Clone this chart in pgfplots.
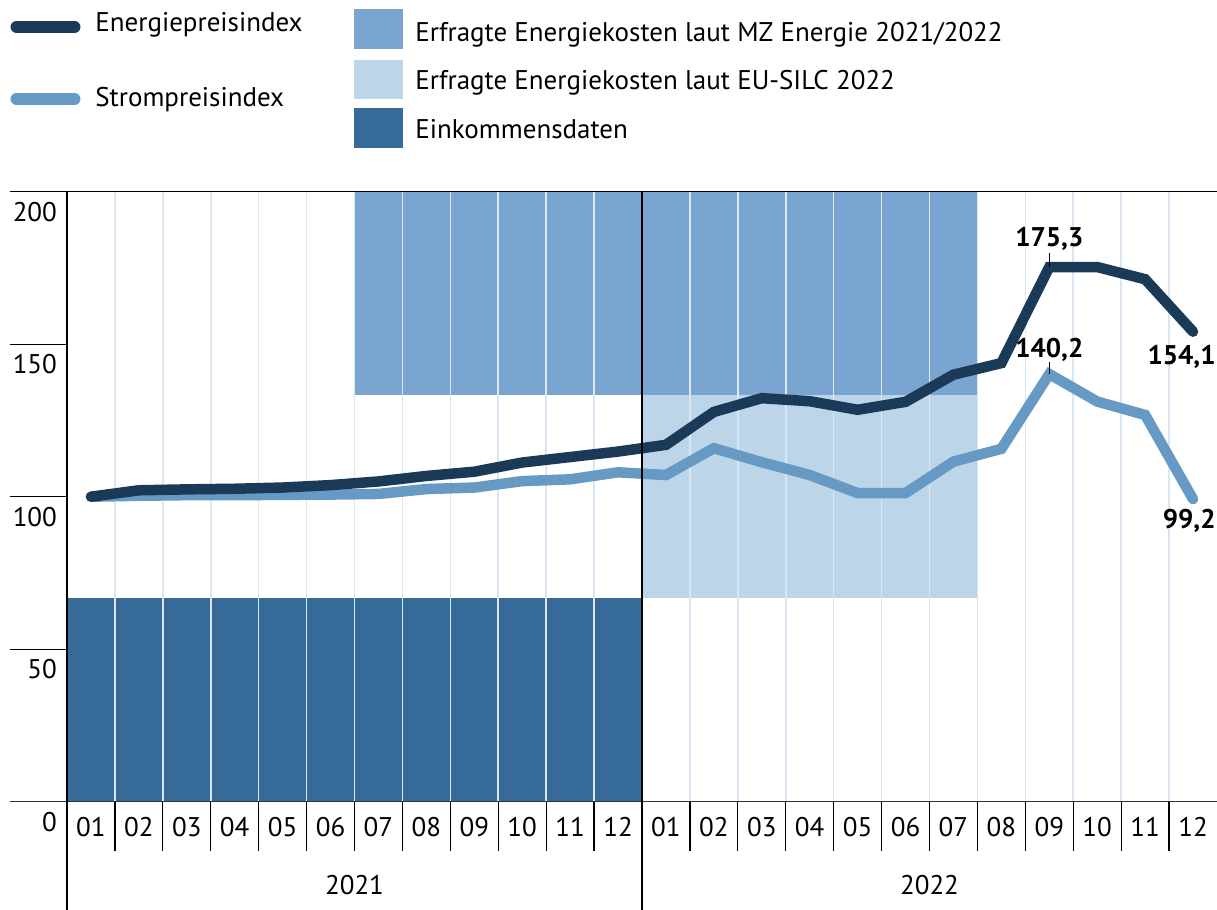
\documentclass[border=0pt]{standalone}
\usepackage{fontspec}
\setmainfont{PT Sans}
\usepackage{pgfplots}
\pgfplotsset{compat=1.18}
\definecolor{cdark}{RGB}{27,58,87}
\definecolor{clight}{RGB}{102,153,196}
\definecolor{cmz}{RGB}{123,165,209}
\definecolor{ceu}{RGB}{188,213,232}
\definecolor{cink}{RGB}{54,106,153}
\definecolor{cgrid}{RGB}{218,231,243}
\definecolor{caxis}{RGB}{51,51,51}
\begin{document}
\fontsize{13.5}{16}\selectfont
\begin{tikzpicture}
\useasboundingbox (-33.5pt,-54.15pt) rectangle (575pt,400.85pt);
\begin{axis}[
  at={(0pt,0pt)}, anchor=south west,
  scale only axis, width=575pt, height=305pt,
  xmin=0, xmax=24, ymin=0, ymax=200,
  axis line style={draw=none},
  clip=false,
  xtick={0,...,23},
  xticklabels={01,02,03,04,05,06,07,08,09,10,11,12,01,02,03,04,05,06,07,08,09,10,11,12},
  ytick={0,50,100,150,200},
  major tick length=24.5pt,
  tick align=outside,
  xtick pos=bottom, ytick pos=left,
  tick style={black, line width=0.6pt},
  xticklabel style={anchor=base, inner sep=0pt, xshift=11.979pt, yshift=7pt},
  yticklabel style={anchor=north east, inner sep=0pt, xshift=19.65pt, yshift=-5pt},
  /pgf/number format/assume math mode=true,
]
% survey / data availability blocks
\addplot[fill=cink, draw=none] coordinates {(0,0)(12,0)(12,66.67)(0,66.67)} -- cycle;
\addplot[fill=cmz, draw=none] coordinates {(6,133.33)(19,133.33)(19,200)(6,200)} -- cycle;
\addplot[fill=ceu, draw=none] coordinates {(12,66.67)(19,66.67)(19,133.33)(12,133.33)} -- cycle;
% vertical month grid
\addplot[ycomb, no marks, cgrid, line width=0.8pt] coordinates {
 (1,200)(2,200)(3,200)(4,200)(5,200)(6,200)(7,200)(8,200)(9,200)(10,200)(11,200)
 (13,200)(14,200)(15,200)(16,200)(17,200)(18,200)(19,200)(20,200)(21,200)(22,200)(23,200)};
% Strompreisindex
\addplot[clight, line width=5.25pt, line cap=round, no marks] coordinates {
 (0.5,100)(1.5,100.3)(2.5,100.5)(3.5,100.5)(4.5,100.6)(5.5,100.7)(6.5,100.9)(7.5,102.5)
 (8.5,103.0)(9.5,105.1)(10.5,105.7)(11.5,108.0)(12.5,107.1)(13.5,115.9)(14.5,111.3)(15.5,107.1)
 (16.5,101.2)(17.5,101.2)(18.5,111.5)(19.5,115.7)(20.5,140.2)(21.5,131.2)(22.5,126.8)(23.5,99.2)};
% Energiepreisindex
\addplot[cdark, line width=5.25pt, line cap=round, no marks] coordinates {
 (0.5,100)(1.5,102.1)(2.5,102.4)(3.5,102.6)(4.5,103.0)(5.5,103.8)(6.5,105.0)(7.5,106.8)
 (8.5,108.2)(9.5,111.2)(10.5,113.0)(11.5,114.8)(12.5,117.0)(13.5,127.8)(14.5,132.3)(15.5,131.3)
 (16.5,128.5)(17.5,131.1)(18.5,140.0)(19.5,143.8)(20.5,175.3)(21.5,175.3)(22.5,171.3)(23.5,154.1)};
% value labels
\draw[black, line width=0.6pt] (axis cs:20.5,175.3) -- ++(0,7pt);
\draw[black, line width=0.6pt] (axis cs:20.5,140.2) -- ++(0,6.2pt);
\node[anchor=base, inner sep=0pt, font=\bfseries] at ([yshift=10.2pt]axis cs:20.5,175.3) {175,3};
\node[anchor=base, inner sep=0pt, font=\bfseries] at ([yshift=8.4pt]axis cs:20.5,140.2) {140,2};
\node[anchor=base east, inner sep=0pt, font=\bfseries] at ([xshift=-0.5pt,yshift=-16.2pt]axis cs:24,154.1) {154,1};
\node[anchor=base east, inner sep=0pt, font=\bfseries] at ([xshift=-0.5pt,yshift=-14.6pt]axis cs:24,99.2) {99,2};
\end{axis}
% frame lines
\foreach \yy in {76.25,152.5,228.75} \draw[black, line width=0.6pt] (-28.5pt,\yy pt) -- (0pt,\yy pt);
\draw[black, line width=0.6pt] (-28.5pt,305pt) -- (575pt,305pt);
\draw[caxis, line width=0.8pt] (-28.5pt,0pt) -- (575pt,0pt);
\draw[black, line width=0.6pt] (0pt,305pt) -- (0pt,-54.15pt);
\draw[black, line width=0.6pt] (287.5pt,305pt) -- (287.5pt,-54.15pt);
% year labels
\node[anchor=base, inner sep=0pt] at (143.75pt,-46.65pt) {2021};
\node[anchor=base, inner sep=0pt] at (431.25pt,-46.65pt) {2022};
% legend
\draw[cdark, line width=6pt, line cap=round] (-25.25pt,387.35pt) -- (3.75pt,387.35pt);
\draw[clight, line width=6pt, line cap=round] (-25.25pt,351.35pt) -- (3.75pt,351.35pt);
\node[anchor=base west, inner sep=0pt] at (14pt,384.85pt) {Energiepreisindex};
\node[anchor=base west, inner sep=0pt] at (14pt,347.35pt) {Strompreisindex};
\fill[cmz] (143.5pt,376.35pt) rectangle (168pt,396.35pt);
\fill[ceu] (143.5pt,351.35pt) rectangle (168pt,370.85pt);
\fill[cink] (143.5pt,326.85pt) rectangle (168pt,346.85pt);
\node[anchor=base west, inner sep=0pt] at (174pt,379.85pt) {Erfragte Energiekosten laut MZ Energie 2021/2022};
\node[anchor=base west, inner sep=0pt] at (174pt,355.85pt) {Erfragte Energiekosten laut EU-SILC 2022};
\node[anchor=base west, inner sep=0pt] at (174pt,331.35pt) {Einkommensdaten};
\end{tikzpicture}
\end{document}
